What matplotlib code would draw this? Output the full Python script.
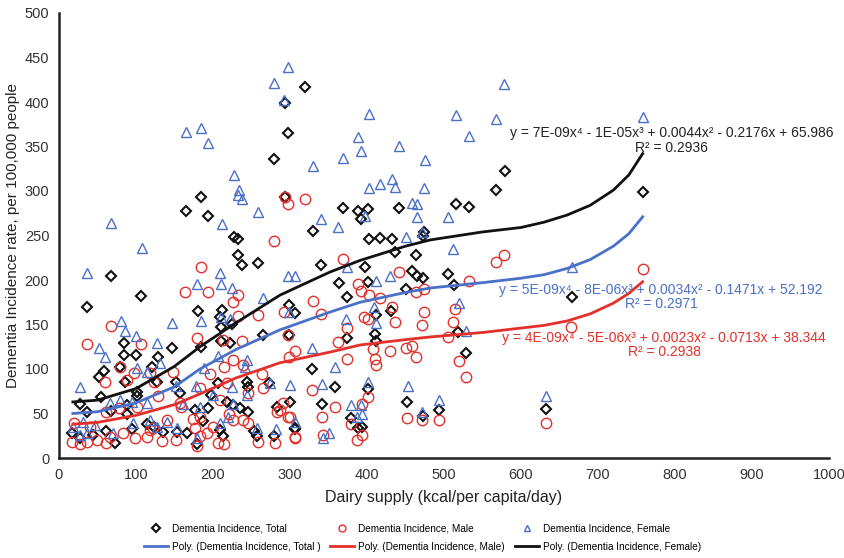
import numpy as np
import matplotlib
matplotlib.use('Agg')
import matplotlib.pyplot as plt
from matplotlib.lines import Line2D

plt.rcParams['font.family'] = ['Liberation Sans', 'DejaVu Sans']

# Dairy supply (kcal/per capita/day) vs incidence per 100,000
total_pts = [
    (319, 417), (293, 399), (297, 365), (579, 322), (568, 301), (515, 285), (532, 282), (369, 281),
    (388, 278), (401, 280), (392, 268), (442, 281), (330, 255), (474, 254), (473, 249), (403, 246),
    (417, 247), (432, 246), (279, 336), (293, 293), (184, 293), (165, 277), (193, 272), (227, 248),
    (233, 246), (37, 170), (68, 204), (107, 182), (233, 228), (238, 217), (259, 219), (180, 165),
    (212, 166), (209, 158), (211, 147), (225, 151), (265, 138), (299, 172), (306, 163), (299, 138),
    (184, 125), (210, 131), (222, 129), (147, 124), (128, 113), (121, 102), (127, 85), (84, 129),
    (85, 116), (100, 116), (79, 102), (86, 85), (59, 98), (52, 91), (55, 69), (101, 74), (101, 70),
    (157, 73), (152, 85), (244, 85), (246, 80), (273, 84), (88, 60), (197, 71), (207, 84), (218, 63),
    (226, 60), (235, 56), (246, 52), (300, 63), (283, 57), (194, 56), (176, 54), (187, 42), (166, 28),
    (179, 16), (209, 31), (213, 25), (253, 30), (257, 25), (279, 25), (306, 34), (88, 50), (68, 53),
    (61, 30), (73, 17), (36, 52), (27, 61), (17, 28), (27, 22), (44, 26), (95, 33), (114, 38),
    (123, 35), (135, 29), (153, 29), (436, 231), (464, 228), (340, 217), (397, 215), (364, 197),
    (401, 198), (374, 181), (451, 190), (458, 210), (465, 205), (473, 202), (505, 207), (513, 194),
    (666, 181), (431, 165), (412, 161), (374, 135), (410, 139), (412, 131), (518, 142), (528, 118),
    (328, 100), (359, 80), (401, 78), (341, 61), (452, 63), (494, 54), (473, 47), (632, 55), (307, 33),
    (379, 45), (388, 34), (394, 35), (758, 299),
]

male_pts = [
    (293, 293), (297, 285), (279, 244), (319, 291), (185, 215), (164, 187), (194, 186), (226, 175),
    (233, 183), (232, 159), (259, 161), (292, 164), (68, 148), (36, 128), (106, 128), (179, 135),
    (238, 131), (213, 133), (298, 138), (299, 113), (306, 120), (79, 102), (97, 95), (118, 95),
    (196, 94), (214, 102), (226, 110), (239, 104), (264, 94), (60, 85), (88, 88), (148, 97), (124, 85),
    (183, 79), (218, 84), (209, 65), (246, 73), (265, 79), (157, 62), (158, 57), (129, 70), (101, 57),
    (78, 56), (61, 52), (291, 62), (283, 52), (298, 46), (306, 23), (281, 17), (258, 18), (200, 35),
    (183, 46), (174, 44), (177, 34), (183, 25), (192, 28), (207, 17), (214, 16), (179, 14), (226, 43),
    (239, 43), (246, 39), (221, 50), (140, 43), (118, 31), (114, 24), (99, 23), (83, 28), (66, 24),
    (61, 17), (49, 20), (37, 18), (27, 16), (17, 18), (40, 35), (20, 39), (134, 19), (152, 20),
    (122, 34), (369, 224), (330, 176), (340, 162), (388, 196), (392, 188), (403, 183), (417, 180),
    (442, 209), (464, 186), (474, 190), (568, 220), (578, 228), (532, 199), (432, 170), (436, 153),
    (396, 158), (401, 156), (474, 164), (471, 149), (514, 167), (512, 153), (505, 136), (374, 146),
    (362, 130), (374, 111), (410, 111), (412, 105), (408, 122), (430, 120), (451, 124), (458, 126),
    (464, 114), (519, 109), (528, 91), (665, 147), (328, 76), (359, 57), (401, 69), (393, 61),
    (300, 46), (341, 46), (307, 24), (343, 26), (379, 38), (387, 20), (393, 26), (452, 45), (471, 43),
    (494, 43), (632, 39), (287, 54), (758, 212),
]

female_pts = [
    (297, 439), (279, 421), (292, 402), (165, 366), (185, 371), (194, 354), (227, 318), (234, 301),
    (233, 296), (238, 291), (212, 263), (259, 276), (68, 264), (578, 420), (402, 387), (515, 385),
    (568, 381), (532, 362), (388, 361), (392, 345), (442, 351), (369, 337), (330, 328), (475, 335),
    (432, 314), (417, 308), (403, 303), (436, 304), (474, 303), (458, 286), (465, 285), (465, 271),
    (505, 271), (340, 268), (362, 259), (397, 272), (451, 248), (471, 254), (758, 383), (37, 208),
    (108, 236), (179, 196), (209, 208), (210, 196), (225, 191), (265, 180), (298, 204), (306, 204),
    (299, 164), (80, 154), (86, 143), (100, 137), (147, 152), (184, 154), (211, 158), (222, 156),
    (127, 129), (52, 124), (60, 113), (101, 101), (114, 97), (131, 107), (244, 110), (242, 102),
    (188, 101), (206, 115), (27, 80), (66, 62), (79, 65), (95, 63), (114, 62), (152, 81), (178, 81),
    (225, 80), (274, 84), (300, 82), (200, 71), (161, 61), (220, 46), (244, 71), (282, 33), (307, 41),
    (140, 41), (153, 34), (18, 35), (31, 41), (47, 37), (37, 28), (179, 23), (209, 39), (257, 34),
    (226, 61), (183, 57), (118, 43), (96, 39), (127, 35), (70, 28), (27, 26), (512, 235), (374, 215),
    (430, 204), (412, 199), (519, 174), (409, 170), (412, 152), (373, 156), (528, 143), (329, 124),
    (359, 102), (341, 83), (401, 85), (453, 81), (494, 65), (379, 60), (392, 59), (387, 46), (393, 49),
    (471, 52), (632, 70), (343, 22), (351, 28), (666, 215),
]

# polynomial trend lines
trend_x = [18, 50, 100, 150, 183, 230, 287, 352, 391, 450, 482, 550, 600, 630, 660, 690, 720, 740, 758]
trend_total = [50, 52, 62, 80, 100, 122, 144, 164, 175, 186, 191, 197, 202, 206, 213, 223, 238, 252, 271]
trend_male = [38, 40, 48, 60, 72, 90, 107, 119, 127, 133, 136, 141, 146, 149, 154, 162, 174, 185, 198]
trend_female = [63, 65, 78, 103, 125, 152, 183, 209, 222, 238, 245, 254, 259, 265, 273, 284, 301, 318, 342]

eq_female = 'y = 7E-09x\u2074 - 1E-05x\u00b3 + 0.0044x\u00b2 - 0.2176x + 65.986\nR\u00b2 = 0.2936'
eq_total = 'y = 5E-09x\u2074 - 8E-06x\u00b3 + 0.0034x\u00b2 - 0.1471x + 52.192\nR\u00b2 = 0.2971'
eq_male = 'y = 4E-09x\u2074 - 5E-06x\u00b3 + 0.0023x\u00b2 - 0.0713x + 38.344\nR\u00b2 = 0.2938'

black = '#111111'
red = '#e3302b'
blue = '#4a70c8'

fig = plt.figure(figsize=(8.45, 5.58), dpi=100)
ax = fig.add_axes([59 / 845, 100 / 558, 770 / 845, 445 / 558])

t = np.array(total_pts)
m = np.array(male_pts)
f = np.array(female_pts)

ax.plot(t[:, 0], t[:, 1], linestyle='none', marker='D', markersize=5, markerfacecolor='none',
        markeredgecolor=black, markeredgewidth=1.5)
ax.plot(m[:, 0], m[:, 1], linestyle='none', marker='o', markersize=7.5, markerfacecolor='none',
        markeredgecolor=red, markeredgewidth=1.0)
ax.plot(f[:, 0], f[:, 1], linestyle='none', marker='^', markersize=7.5, markerfacecolor='none',
        markeredgecolor=blue, markeredgewidth=1.0)

ax.plot(trend_x, trend_total, color=blue, lw=2)
ax.plot(trend_x, trend_male, color=red, lw=2)
ax.plot(trend_x, trend_female, color=black, lw=2)

eq_font = ['Liberation Sans', 'DejaVu Sans']
ax.text(796, 357, eq_female, ha='center', va='center', fontsize=10, color='#222222',
        family=eq_font, linespacing=1.05)
ax.text(782, 181, eq_total, ha='center', va='center', fontsize=10, color=blue,
        family=eq_font, linespacing=1.05)
ax.text(786, 127, eq_male, ha='center', va='center', fontsize=10, color=red,
        family=eq_font, linespacing=1.05)

ax.set_xlim(0, 1000)
ax.set_ylim(0, 500)
ax.set_xticks(np.arange(0, 1001, 100))
ax.set_yticks(np.arange(0, 501, 50))
ax.tick_params(length=0, labelsize=10.5, labelcolor='#333333', pad=7)
for side in ['top', 'right']:
    ax.spines[side].set_visible(False)
for side in ['left', 'bottom']:
    ax.spines[side].set_color('#222222')
    ax.spines[side].set_linewidth(1.8)

ax.set_xlabel('Dairy supply (kcal/per capita/day)', fontsize=11.5, color='#222222', labelpad=6)
ax.set_ylabel('Dementia Incidence rate, per 100,000 people', fontsize=11, color='#222222', labelpad=3)

handles = [
    Line2D([], [], linestyle='none', marker='D', markersize=4, markerfacecolor='none',
           markeredgecolor=black, markeredgewidth=1.5),
    Line2D([], [], color=blue, lw=2),
    Line2D([], [], linestyle='none', marker='o', markersize=5, markerfacecolor='none',
           markeredgecolor=red, markeredgewidth=1.0),
    Line2D([], [], color=red, lw=2),
    Line2D([], [], linestyle='none', marker='^', markersize=5, markerfacecolor='none',
           markeredgecolor=blue, markeredgewidth=1.0),
    Line2D([], [], color=black, lw=2),
]
labels = [
    'Dementia Incidence, Total', 'Poly. (Dementia Incidence, Total )',
    'Dementia Incidence, Male', 'Poly. (Dementia Incidence, Male)',
    'Dementia Incidence, Female', 'Poly. (Dementia Incidence, Female)',
]
fig.legend(handles, labels, loc='lower center', bbox_to_anchor=(0.5, -0.005), ncol=3, frameon=False,
           prop={'family': ['Liberation Sans', 'DejaVu Sans'], 'size': 7.2},
           handlelength=2.4, columnspacing=1.0, handletextpad=0.4, labelspacing=0.8)

plt.savefig('out.png', dpi=100)
